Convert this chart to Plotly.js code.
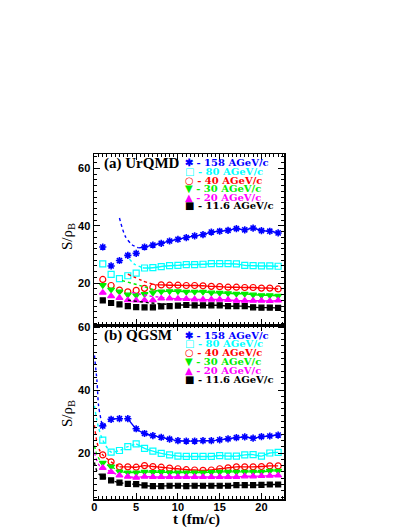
<!DOCTYPE html>
<html>
<head>
<meta charset="utf-8">
<script src="https://cdn.plot.ly/plotly-3.0.1.min.js"></script>
<style>
  html, body { margin: 0; padding: 0; background: #fff; }
  #chart { width: 409px; height: 529px; }
</style>
</head>
<body>
<div id="chart"></div>
<script>
// time steps of the model points (fm/c)
var tSteps = [1,2,3,4,5,6,7,8,9,10,11,12,13,14,15,16,17,18,19,20,21,22];

var energies = ['158 AGeV/c', '80 AGeV/c', '40 AGeV/c', '30 AGeV/c', '20 AGeV/c', '11.6 AGeV/c'];
var colors   = ['#0000ff', '#00ffff', '#ff0000', '#00ee00', '#ff00ff', '#000000'];
var symbols  = ['asterisk-open', 'square-open', 'circle-open', 'triangle-down', 'triangle-up', 'square'];
var glyphs   = ['\u2731', '\u25A1', '\u25CB', '\u25BC', '\u25B2', '\u25A0'];

// (a) UrQMD, S/rho_B
var urqmd158 = [32.6,26.0,27.9,29.7,30.4,32.6,33.3,33.9,34.7,35.3,35.9,36.5,36.9,37.8,38.1,38.4,39.0,38.6,39.2,38.3,38.1,37.5];
var urqmd80  = [26.7,23.1,21.6,22.6,23.5,25.3,25.4,25.8,26.1,26.2,26.5,26.5,26.6,26.8,26.8,26.8,26.7,26.2,26.1,26.0,26.0,25.9];
var urqmd40  = [21.3,19.2,17.6,17.0,17.5,18.2,18.6,19.4,19.3,19.3,19.2,19.2,19.1,18.9,18.8,18.6,18.6,18.5,18.5,18.3,18.3,18.0];
var urqmd30  = [19.3,17.8,17.1,16.0,15.8,16.2,16.7,17.1,17.2,17.2,17.0,17.0,17.0,16.7,16.6,16.5,16.3,16.3,16.0,15.8,15.8,15.6];
var urqmd20  = [16.7,15.5,14.9,14.1,14.0,14.1,14.1,14.7,14.7,14.6,14.5,14.4,14.3,14.3,14.3,14.2,13.9,13.9,13.9,13.9,13.8,14.0];
var urqmd11  = [14.0,13.1,12.6,12.0,11.7,11.6,11.6,11.9,12.0,12.2,12.4,12.3,12.3,12.3,12.3,12.0,12.0,12.0,11.6,11.5,11.5,11.4];

// (a) dotted curves at early times (t, S/rho_B)
var urqmdDotT = [[3.0,3.7,4.5,5.3], [4.2,4.8,5.8], [4.0,5.7,7.3], [3.3,5.7,7.3], [4.5,6.5,9.0], [4.0,6.5,10.0]];
var urqmdDotS = [[42.7,36.3,33.4,32.3], [28.4,26.6,25.4], [23.2,20.9,19.4], [20.9,19.0,17.5], [16.8,15.6,14.8], [14.1,13.2,12.4]];

// (b) QGSM, S/rho_B
var qgsm158 = [28.6,30.7,30.9,30.9,27.7,26.2,25.5,25.0,24.4,23.9,23.8,23.8,23.9,23.9,24.2,24.5,24.9,25.1,24.7,25.2,25.4,25.7];
var qgsm80  = [24.1,20.3,20.8,22.0,22.9,21.5,20.6,19.9,19.4,19.0,18.9,18.9,18.9,18.9,19.2,19.0,19.0,19.4,19.5,19.0,20.0,20.2];
var qgsm40  = [19.4,17.2,15.6,15.6,15.5,16.0,15.7,15.5,15.2,15.0,14.7,14.6,14.5,14.6,15.0,15.3,15.6,15.6,15.6,15.7,15.9,15.9];
var qgsm30  = [16.9,15.7,14.1,13.8,13.8,14.0,13.9,13.9,13.8,13.8,13.8,13.8,13.8,13.9,14.0,14.0,14.0,14.0,14.0,14.0,14.3,14.3];
var qgsm20  = [15.3,14.0,12.9,12.5,12.2,12.5,12.4,12.4,12.4,12.4,12.4,12.4,12.4,12.4,12.4,12.4,12.4,12.6,12.6,12.7,12.8,12.9];
var qgsm11  = [12.5,11.3,10.6,10.2,10.1,9.7,9.5,9.5,9.6,9.6,9.5,9.6,9.6,9.6,9.6,9.6,9.8,9.8,9.8,9.9,10.0,10.0];

// (b) start of the curves before t = 1, and where the dotted part ends
var qgsmEarlyT = [[0,0.3,0.5,0.8], [0,0.25,0.5], [0,0.3,0.6], [0,0.3,0.6], [0,0.3,0.6], [0,0.3,0.6]];
var qgsmEarlyS = [[51,43,35,30.5], [35,31,28], [28.8,23.5,21], [22.3,19.5,18], [20.2,17.5,16.0], [17,14.2,13.2]];
var qgsmSwitch = [4, 5, 3, 3, 5, 5];

var urqmd = [urqmd158, urqmd80, urqmd40, urqmd30, urqmd20, urqmd11];
var qgsm  = [qgsm158, qgsm80, qgsm40, qgsm30, qgsm20, qgsm11];

var traces = [];

function markerTrace(vals, i, xa, ya) {
    return {
        x: tSteps, y: vals, xaxis: xa, yaxis: ya, mode: 'markers', type: 'scatter',
        showlegend: false, hoverinfo: 'skip',
        marker: {
            symbol: symbols[i], color: colors[i],
            size: i == 5 ? 5 : 6,
            line: {color: colors[i], width: i == 0 ? 1.6 : 1.2}
        }
    };
}

function lineTrace(xs, ys, i, dash, xa, ya) {
    return {
        x: xs, y: ys, xaxis: xa, yaxis: ya, mode: 'lines', type: 'scatter',
        showlegend: false, hoverinfo: 'skip',
        line: {color: colors[i], width: 1.4, dash: dash, shape: 'spline', smoothing: 0.8}
    };
}

// top panel
urqmd.forEach(function(vals, i) {
    var dt = urqmdDotT[i], ds = urqmdDotS[i];
    var tEnd = dt[dt.length - 1];
    var sx = [tEnd], sy = [ds[ds.length - 1]];
    tSteps.forEach(function(t, k) { if (t > tEnd) { sx.push(t); sy.push(vals[k]); } });
    traces.push(lineTrace(dt, ds, i, 'dot', 'x2', 'y2'));
    traces.push(lineTrace(sx, sy, i, 'solid', 'x2', 'y2'));
    traces.push(markerTrace(vals, i, 'x2', 'y2'));
});

// bottom panel
qgsm.forEach(function(vals, i) {
    var dx = qgsmEarlyT[i].slice(), dy = qgsmEarlyS[i].slice();
    var sx = [], sy = [];
    tSteps.forEach(function(t, k) {
        if (t <= qgsmSwitch[i]) { dx.push(t); dy.push(vals[k]); }
        if (t >= qgsmSwitch[i]) { sx.push(t); sy.push(vals[k]); }
    });
    traces.push(lineTrace(dx, dy, i, 'dot', 'x', 'y'));
    traces.push(lineTrace(sx, sy, i, 'solid', 'x', 'y'));
    traces.push(markerTrace(vals, i, 'x', 'y'));
});

var tickFont = {family: 'Liberation Sans, Arial, sans-serif', size: 11, color: '#000', weight: 'bold'};
var serif = 'Liberation Serif, Times New Roman, serif';

function xAxis(extra) {
    var ax = {
        range: [-0.05, 22.7], dtick: 5, tick0: 0,
        ticks: 'inside', ticklen: 6, tickwidth: 1, tickcolor: '#000',
        minor: {dtick: 0.5, ticks: 'inside', ticklen: 3, tickcolor: '#000'},
        showline: true, linecolor: '#000', linewidth: 1.5, mirror: 'allticks',
        showgrid: false, zeroline: false, tickfont: tickFont, ticklabelstandoff: -3
    };
    return Object.assign(ax, extra);
}

function yAxis(extra) {
    var ax = {
        dtick: 20, tick0: 0,
        ticks: 'inside', ticklen: 6, tickwidth: 1, tickcolor: '#000',
        minor: {dtick: 2, ticks: 'inside', ticklen: 3, tickcolor: '#000'},
        showline: true, linecolor: '#000', linewidth: 1.5, mirror: 'allticks',
        showgrid: false, zeroline: false, tickfont: tickFont
    };
    return Object.assign(ax, extra);
}

var titleFont = {family: serif, size: 15, color: '#000'};
var annotations = [];
// panel labels
annotations.push({xref: 'x2 domain', yref: 'y2 domain', x: 0.04, y: 0.945, xanchor: 'left', yanchor: 'middle',
    text: '<b>(a) UrQMD</b>', showarrow: false, font: titleFont});
annotations.push({xref: 'x domain', yref: 'y domain', x: 0.04, y: 0.94, xanchor: 'left', yanchor: 'middle',
    text: '<b>(b) QGSM</b>', showarrow: false, font: titleFont});

// axis titles
annotations.push({xref: 'paper', yref: 'y2 domain', x: -0.137, y: 0.52, xanchor: 'center', yanchor: 'middle',
    textangle: -90, showarrow: false, text: 'S/\u03C1<sub>B</sub>', font: titleFont});
annotations.push({xref: 'paper', yref: 'y domain', x: -0.137, y: 0.494, xanchor: 'center', yanchor: 'middle',
    textangle: -90, showarrow: false, text: 'S/\u03C1<sub>B</sub>', font: titleFont});
annotations.push({xref: 'paper', yref: 'paper', x: 0.537, y: -0.06, xanchor: 'center', yanchor: 'middle',
    showarrow: false, text: '<b>t (fm/c)</b>', font: titleFont});

// legends drawn as text rows in each panel
[['x2 domain', 'y2 domain', 0.949, 0.0505], ['x domain', 'y domain', 0.943, 0.0515]].forEach(function(p) {
    energies.forEach(function(lab, i) {
        annotations.push({
            xref: p[0], yref: p[1], x: 0.475, y: p[2] - i * p[3], xanchor: 'left', yanchor: 'middle',
            text: '<b>' + glyphs[i] + ' - ' + lab + '</b>', showarrow: false, borderpad: 0,
            font: {family: 'DejaVu Serif, serif', size: 10, color: colors[i]}
        });
    });
});

var layout = {
    width: 409, height: 529,
    margin: {l: 94, r: 125, t: 154, b: 30},
    paper_bgcolor: '#fff', plot_bgcolor: '#fff',
    showlegend: false,
    xaxis: xAxis({anchor: 'y'}),
    xaxis2: xAxis({anchor: 'y2', matches: 'x', showticklabels: false}),
    yaxis: yAxis({domain: [0, 0.504], range: [5.4, 60.6], anchor: 'x'}),
    yaxis2: yAxis({domain: [0.504, 1], range: [5.4, 65], anchor: 'x2'}),
    annotations: annotations
};

Plotly.newPlot('chart', traces, layout, {displayModeBar: false, staticPlot: true});
</script>
</body>
</html>
